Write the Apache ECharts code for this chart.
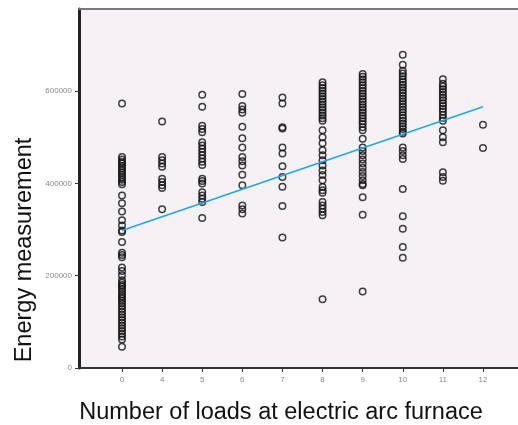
<!DOCTYPE html>
<html>
<head>
<meta charset="utf-8">
<script src="https://cdn.jsdelivr.net/npm/echarts@6/dist/echarts.min.js"></script>
<style>
  html, body { margin: 0; padding: 0; background: #fff; }
  #container { width: 518px; height: 425px; }
</style>
</head>
<body>
<div id="container"></div>
<script>
// number of loads (x categories, evenly spaced in the plot)
const loads = ["0", "4", "5", "6", "7", "8", "9", "10", "11", "12"];

// energy measurement per load count
const e0 = [573000, 457000, 452000, 447000, 443000, 438000, 433000, 428000, 423000, 418000, 413000, 408000, 403000, 398000, 374000, 357000, 339000, 320000, 309000, 298000, 295000, 273000, 250000, 245000, 240000, 218000, 210000, 201000, 190000, 185000, 180000, 176000, 171000, 166000, 160000, 155000, 150000, 145000, 140000, 134000, 128000, 122000, 116000, 110000, 104000, 98000, 92000, 86000, 80000, 74000, 68000, 62000, 46000];
const e4 = [534000, 457000, 450000, 443000, 436000, 410000, 403000, 396000, 390000, 344000];
const e5 = [592000, 566000, 525000, 518000, 511000, 489000, 482000, 475000, 468000, 461000, 454000, 447000, 440000, 410000, 405000, 400000, 381000, 374000, 367000, 360000, 325000];
const e6 = [594000, 568000, 560000, 553000, 523000, 498000, 478000, 457000, 448000, 439000, 419000, 396000, 352000, 344000, 335000];
const e7 = [586000, 573000, 522000, 519000, 478000, 465000, 437000, 414000, 393000, 351000, 283000];
const e8 = [619000, 613000, 607000, 601000, 595000, 589000, 583000, 577000, 571000, 565000, 559000, 553000, 547000, 541000, 536000, 515000, 500000, 487000, 472000, 461000, 450000, 439000, 428000, 418000, 407000, 392000, 385000, 380000, 360000, 352000, 345000, 338000, 331000, 149000];
const e9 = [637000, 631000, 625000, 619000, 613000, 607000, 601000, 595000, 589000, 583000, 577000, 571000, 565000, 559000, 553000, 547000, 541000, 535000, 529000, 522000, 515000, 497000, 478000, 470000, 461000, 452000, 443000, 434000, 425000, 416000, 407000, 399000, 396000, 370000, 332000, 166000];
const e10 = [679000, 657000, 644000, 638000, 632000, 626000, 620000, 614000, 608000, 602000, 596000, 590000, 584000, 578000, 572000, 566000, 560000, 554000, 548000, 542000, 536000, 530000, 524000, 518000, 512000, 508000, 478000, 470000, 461000, 453000, 388000, 329000, 302000, 262000, 239000];
const e11 = [626000, 616000, 610000, 604000, 598000, 592000, 586000, 580000, 574000, 568000, 562000, 556000, 549000, 542000, 536000, 515000, 500000, 489000, 424000, 414000, 406000];
const e12 = [527000, 477000];

// fit line end points (at first and last category)
const fitLine = [298000, 566000];

const yTicks = [0, 200000, 400000, 600000];

function buildPoints() {
  let cols = [e0, e4, e5, e6, e7, e8, e9, e10, e11, e12],
    pts = [];
  for (let i = 0; i < cols.length; i++) {
    for (let k = 0; k < cols[i].length; k++) pts.push([i, cols[i][k]]);
  }
  return pts;
}

function chartSetup(container) {
  let myChart = echarts.init(document.getElementById(container)),
    tickIdx = loads.map(function (l, i) { return i; }),
    font = "'Liberation Sans', Arial, sans-serif";

  let option = {
    animation: false,
    backgroundColor: "#ffffff",
    grid: {
      left: 79,
      top: 9,
      right: 0,
      bottom: 57,
      show: true,
      backgroundColor: "#f5f1f5",
      borderWidth: 0
    },
    xAxis: [
      {
        type: "value",
        min: -1.072,
        max: 9.873,
        splitLine: { show: false },
        axisLine: { onZero: false, lineStyle: { color: "#333", width: 2 } },
        axisTick: { customValues: tickIdx, length: 4, lineStyle: { color: "#333" } },
        axisLabel: {
          customValues: tickIdx,
          color: "#888",
          fontSize: 8,
          fontFamily: font,
          margin: 8,
          formatter: function (v) { return loads[Math.round(v)]; }
        }
      },
      {
        // top frame line only
        type: "value",
        position: "top",
        min: -1.072,
        max: 9.873,
        splitLine: { show: false },
        axisLine: { onZero: false, lineStyle: { color: "#7a7a7a", width: 2 } },
        axisTick: { show: false },
        axisLabel: { show: false }
      }
    ],
    yAxis: {
      type: "value",
      min: 0,
      max: 778000,
      splitLine: { show: false },
      axisLine: { show: true, onZero: false, lineStyle: { color: "#222", width: 3 } },
      axisTick: { show: true, customValues: yTicks, length: 4, lineStyle: { color: "#333" } },
      axisLabel: {
        customValues: yTicks,
        color: "#888",
        fontSize: 8,
        fontFamily: font,
        margin: 7,
        formatter: function (v) { return String(v); }
      }
    },
    graphic: [
      {
        type: "text",
        x: 281,
        y: 413,
        style: {
          text: "Number of loads at electric arc furnace",
          fill: "#111",
          font: "23.5px " + font,
          textAlign: "center",
          textVerticalAlign: "middle"
        }
      },
      {
        type: "text",
        x: 25,
        y: 250,
        rotation: Math.PI / 2,
        style: {
          text: "Energy measurement",
          fill: "#111",
          font: "23.5px " + font,
          textAlign: "center",
          textVerticalAlign: "middle"
        }
      }
    ],
    series: [
      {
        type: "scatter",
        data: buildPoints(),
        symbol: "circle",
        symbolSize: 6.5,
        itemStyle: { color: "rgba(0,0,0,0)", borderColor: "#111", borderWidth: 1.5 }
      },
      {
        type: "line",
        data: [[0, fitLine[0]], [loads.length - 1, fitLine[1]]],
        showSymbol: false,
        lineStyle: { color: "#1ea6ec", width: 1.5 }
      }
    ]
  };
  myChart.setOption(option);
}

chartSetup("container");
</script>
</body>
</html>
